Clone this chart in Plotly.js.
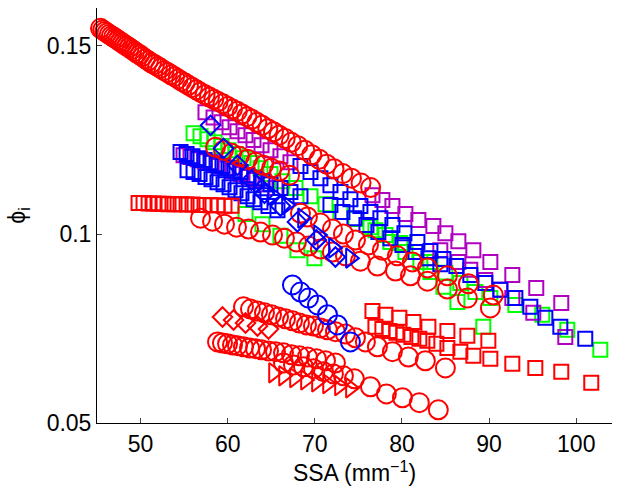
<!DOCTYPE html>
<html><head><meta charset="utf-8">
<script src="https://cdn.plot.ly/plotly-3.0.1.min.js"></script>
<style>html,body{margin:0;padding:0;background:#fff;}#chart{width:617px;height:489px;}</style>
</head><body><div id="chart"></div>
<script>
// ---- data (SSA in mm^-1, phi_i) ----
const redCircA_x = [45.4,45.65,45.9,46.15,46.4,46.65,46.9,47.15,47.4,47.65,47.9,48.15,48.4,48.7,49.0,49.3,49.6,49.9,50.2,50.55,50.9,51.25,51.6,51.95,52.3,52.7,53.1,53.5,53.9,54.3,54.7,55.1,55.5,55.95,56.4,56.85,57.4,57.9,58.4,58.9,59.45,60.0,60.55,61.1,61.65,62.2,62.75,63.35,63.95,64.6,65.25,65.9,66.6,67.3,68.05,68.85,69.65,70.5,71.35,72.2,73.2,74.2,75.3,76.4];
const redCircA_y = [0.1546,0.1542,0.1538,0.1534,0.1530,0.1526,0.1523,0.1519,0.1515,0.1511,0.1507,0.1503,0.1499,0.1495,0.1490,0.1485,0.1480,0.1476,0.1471,0.1465,0.1460,0.1454,0.1450,0.1445,0.1440,0.1434,0.1429,0.1423,0.1418,0.1412,0.1406,0.1401,0.1395,0.1389,0.1383,0.1377,0.1370,0.1364,0.1358,0.1352,0.1346,0.1339,0.1332,0.1326,0.1319,0.1312,0.1305,0.1297,0.1289,0.1280,0.1272,0.1263,0.1254,0.1244,0.1235,0.1223,0.1211,0.1199,0.1186,0.1174,0.1161,0.1149,0.1136,0.1124];
const redCircB_x = [58.60,59.52,60.44,61.35,62.27,63.19,64.10,65.02,65.94,67.09];
const redCircB_y = [0.1231,0.1223,0.1215,0.1207,0.1199,0.1191,0.1183,0.1175,0.1168,0.1157];
const redCircC_x = [56.88,58.26,59.63,61.01,62.39,63.76,65.14,66.51,67.89,69.27,70.64,72.02,73.51,75.23,77.18,79.25,80.97,82.92,85.21,87.50,90.14];
const redCircC_y = [0.1043,0.1035,0.1027,0.1019,0.1014,0.1006,0.0998,0.0990,0.0980,0.0969,0.0961,0.0953,0.0943,0.0929,0.0916,0.0903,0.0890,0.0876,0.0855,0.0831,0.0805];
const redCircD_x = [68.35,69.15,70.64,72.02,73.28,74.66,76.15,77.75,79.47,81.19,82.92,85.21,87.62,90.48];
const redCircD_y = [0.1056,0.1046,0.1030,0.1014,0.1001,0.0985,0.0972,0.0958,0.0943,0.0927,0.0911,0.0890,0.0869,0.0839];
const redCircE_x = [61.81,62.61,63.42,64.22,65.02,65.83,66.63,67.43,68.23,69.04,69.84,70.64,71.45,72.36,73.51,74.66,75.80,77.18,78.90,80.73,82.68,84.98];
const redCircE_y = [0.0808,0.0802,0.0797,0.0792,0.0787,0.0781,0.0776,0.0771,0.0765,0.0760,0.0757,0.0752,0.0747,0.0742,0.0736,0.0726,0.0715,0.0702,0.0689,0.0675,0.0665,0.0646];
const redCircF_x = [58.83,59.40,59.98,60.55,61.12,61.81,62.50,63.19,63.88,64.68,65.48,66.40,67.32,68.23,69.15,70.18,71.22,72.36];
const redCircF_y = [0.0715,0.0712,0.0710,0.0707,0.0705,0.0702,0.0699,0.0697,0.0694,0.0691,0.0689,0.0686,0.0681,0.0678,0.0675,0.0670,0.0665,0.0659];
const redCircG_x = [66.40,67.55,68.69,69.84,70.99,72.13,73.28,74.54,76.38,78.21,80.05,81.99,84.17];
const redCircG_y = [0.0659,0.0654,0.0649,0.0644,0.0636,0.0630,0.0625,0.0617,0.0596,0.0577,0.0567,0.0554,0.0535];
const redSqA_x = [49.77,50.34,50.92,51.49,52.06,52.64,53.21,53.90,54.59,55.28,55.96,56.65,57.34,58.03,58.83,59.63,60.44];
const redSqA_y = [0.1083,0.1083,0.1082,0.1082,0.1081,0.1081,0.1080,0.1080,0.1080,0.1079,0.1079,0.1078,0.1078,0.1077,0.1077,0.1076,0.1076];
const redSqB_x = [76.61,78.10,79.70,81.31,83.03,85.21,87.50,89.91];
const redSqB_y = [0.0797,0.0787,0.0779,0.0768,0.0755,0.0744,0.0731,0.0718];
const redSqC_x = [76.95,77.75,78.56,79.36,80.16,81.08,81.99,82.91,83.95,85.21,86.70,88.19,90.14,92.66,95.30,98.28,101.72];
const redSqC_y = [0.0755,0.0749,0.0744,0.0739,0.0734,0.0728,0.0723,0.0718,0.0710,0.0699,0.0689,0.0678,0.0670,0.0657,0.0646,0.0636,0.0607];
const redDia_x = [59.40,60.67,62.04,63.42,64.68];
const redDia_y = [0.0781,0.0773,0.0765,0.0757,0.0749];
const redTri_x = [65.25,66.40,67.66,68.92,70.18,71.45,72.82,74.08];
const redTri_y = [0.0633,0.0625,0.0620,0.0614,0.0609,0.0604,0.0599,0.0593];
const blueCirc_x = [67.43,68.35,69.27,70.30,71.45,72.59,74.08];
const blueCirc_y = [0.0866,0.0847,0.0831,0.0813,0.0787,0.0760,0.0715];
const blueDia_x = [58.03,59.52,61.12,62.73,64.22,66.05,68.00,70.18,72.36];
const blueDia_y = [0.1289,0.1228,0.1183,0.1144,0.1109,0.1075,0.1033,0.0985,0.0940];
const blueTri_x = [63.53,65.14,66.74,68.58,70.41,72.13,74.08];
const blueTri_y = [0.1133,0.1104,0.1078,0.1043,0.0998,0.0964,0.0937];
const blueSqA_x = [54.59,55.28,55.96,56.65,57.34,58.03,58.72,59.40,60.09,60.78,61.47,62.27,63.07,63.99,64.91,66.05,67.20,68.35];
const blueSqA_y = [0.1218,0.1213,0.1207,0.1202,0.1197,0.1191,0.1186,0.1181,0.1175,0.1170,0.1165,0.1157,0.1149,0.1141,0.1133,0.1123,0.1112,0.1101];
const blueSqB_x = [55.39,56.08,56.77,57.45,58.14,58.83,59.52,60.21,60.89,61.58,62.27,62.96,63.76,64.68,65.71];
const blueSqB_y = [0.1170,0.1165,0.1160,0.1152,0.1146,0.1138,0.1133,0.1125,0.1117,0.1109,0.1101,0.1093,0.1085,0.1075,0.1064];
const blueSqC_x = [68.35,69.50,70.64,71.79,72.94,74.08,75.23,76.38,77.52,78.90,80.28,81.77,83.26,84.75,86.24,87.84,89.56,91.29,93.01,94.73,96.45,98.17,101.03];
const blueSqC_y = [0.1181,0.1165,0.1149,0.1130,0.1112,0.1093,0.1075,0.1059,0.1043,0.1025,0.1003,0.0980,0.0956,0.0935,0.0916,0.0892,0.0871,0.0853,0.0831,0.0808,0.0779,0.0755,0.0723];
const blueSqD_x = [71.79,73.17,74.54,75.92,77.29,78.67,80.05,81.54,83.03,84.40];
const blueSqD_y = [0.1078,0.1059,0.1043,0.1025,0.1006,0.0990,0.0972,0.0953,0.0937,0.0921];
const purpSqA_x = [54.93,55.73,56.54,57.34,58.14,58.94,59.75,60.55,61.47,62.39,63.30,64.33,65.48];
const purpSqA_y = [0.1210,0.1205,0.1199,0.1194,0.1189,0.1181,0.1175,0.1168,0.1160,0.1152,0.1144,0.1133,0.1123];
const purpSqB_x = [57.45,58.37,59.29,60.21,61.12,62.04,62.96,63.88,64.91,66.05,67.20];
const purpSqB_y = [0.1324,0.1310,0.1297,0.1284,0.1273,0.1263,0.1250,0.1236,0.1223,0.1207,0.1191];
const purpSqC_x = [76.61,77.75,78.90,80.39,81.88,83.60,84.98,86.47,88.19,90.14,92.66,95.41,98.28];
const purpSqC_y = [0.1104,0.1091,0.1075,0.1054,0.1038,0.1022,0.1003,0.0982,0.0958,0.0927,0.0892,0.0858,0.0818];
const purpSqD_x = [84.40,86.47,87.84,89.56,91.29,92.66,95.07,98.74];
const purpSqD_y = [0.0958,0.0927,0.0906,0.0879,0.0853,0.0831,0.0792,0.0728];
const greenSqA_x = [56.08,56.88,57.68,58.49,59.29,60.09,60.89,61.81,62.73,63.76,64.91,66.28,67.78,69.50,71.22,72.94,74.66,76.38,78.10,79.82,81.54,83.26,84.98,86.70,88.42,90.14,93.01,96.10,98.97,102.76];
const greenSqA_y = [0.1268,0.1260,0.1252,0.1244,0.1234,0.1223,0.1213,0.1202,0.1189,0.1175,0.1160,0.1141,0.1123,0.1101,0.1080,0.1059,0.1041,0.1019,0.0998,0.0977,0.0953,0.0927,0.0898,0.0871,0.0847,0.0831,0.0813,0.0787,0.0747,0.0694];
const greenSqB_x = [76.95,78.67,80.39,82.11,83.26,84.75,86.36,89.33];
const greenSqB_y = [0.1011,0.0980,0.0953,0.0927,0.0900,0.0861,0.0821,0.0755];
const greenSqC_x = [62.04,63.99,66.05,68.00,69.95];
const greenSqC_y = [0.1054,0.1027,0.0996,0.0958,0.0937];
const xTickVals = [50,60,70,80,90,100];
const yTickVals = [0.05,0.1,0.15];
const yTickText = ['0.05','0.1','0.15'];

const RED='#ff0000', BLUE='#0000ff', GREEN='#00ff00', PURPLE='#b000c0';
function tr(x,y,sym,color,size){
  return {x:x,y:y,type:'scatter',mode:'markers',cliponaxis:false,hoverinfo:'skip',
    marker:{symbol:sym,size:size,color:color,line:{color:color,width:2}}};
}
const data = [
  tr(greenSqA_x,greenSqA_y,'square-open',GREEN,14),
  tr(greenSqB_x,greenSqB_y,'square-open',GREEN,14),
  tr(greenSqC_x,greenSqC_y,'square-open',GREEN,14),
  tr(purpSqA_x,purpSqA_y,'square-open',PURPLE,14),
  tr(purpSqB_x,purpSqB_y,'square-open',PURPLE,14),
  tr(purpSqC_x,purpSqC_y,'square-open',PURPLE,14),
  tr(purpSqD_x,purpSqD_y,'square-open',PURPLE,14),
  tr(blueSqA_x,blueSqA_y,'square-open',BLUE,14),
  tr(blueSqB_x,blueSqB_y,'square-open',BLUE,14),
  tr(blueSqC_x,blueSqC_y,'square-open',BLUE,14),
  tr(blueSqD_x,blueSqD_y,'square-open',BLUE,14),
  tr(redSqA_x,redSqA_y,'square-open',RED,14),
  tr(redSqB_x,redSqB_y,'square-open',RED,14),
  tr(redSqC_x,redSqC_y,'square-open',RED,14),
  tr(redCircA_x,redCircA_y,'circle-open',RED,19),
  tr(redCircB_x,redCircB_y,'circle-open',RED,19),
  tr(redCircC_x,redCircC_y,'circle-open',RED,19),
  tr(redCircD_x,redCircD_y,'circle-open',RED,19),
  tr(redCircE_x,redCircE_y,'circle-open',RED,19),
  tr(redCircF_x,redCircF_y,'circle-open',RED,19),
  tr(redCircG_x,redCircG_y,'circle-open',RED,19),
  tr(redDia_x,redDia_y,'diamond-open',RED,15),
  tr(redTri_x,redTri_y,'triangle-right-open',RED,17),
  tr(blueCirc_x,blueCirc_y,'circle-open',BLUE,19),
  tr(blueDia_x,blueDia_y,'diamond-open',BLUE,15),
  tr(blueTri_x,blueTri_y,'triangle-right-open',BLUE,17)
];
const FONT = {family:'"Liberation Sans", Arial, Helvetica, sans-serif', size:23, color:'#000'};
const layout = {
  width:617, height:489, showlegend:false,
  paper_bgcolor:'#fff', plot_bgcolor:'#fff',
  margin:{l:97,r:5,t:8,b:66,pad:0},
  font:FONT,
  xaxis:{range:[45,104.1], showgrid:false, zeroline:false, showline:true, linecolor:'#000', linewidth:1,
    ticks:'inside', ticklen:5, tickcolor:'#444', tickwidth:1, tickvals:xTickVals, tickfont:FONT,
    title:{text:'SSA (mm<sup>−1</sup>)', font:FONT, standoff:0}},
  yaxis:{range:[0.05,0.16], showgrid:false, zeroline:false, showline:true, linecolor:'#000', linewidth:1,
    ticks:'inside', ticklen:5, tickcolor:'#444', tickwidth:1, tickvals:yTickVals, ticktext:yTickText, tickfont:FONT,
    title:{text:'ϕ<sub>i</sub>', font:FONT, standoff:14}}
};
Plotly.newPlot('chart', data, layout, {staticPlot:true, displayModeBar:false});
</script>
</body></html>
